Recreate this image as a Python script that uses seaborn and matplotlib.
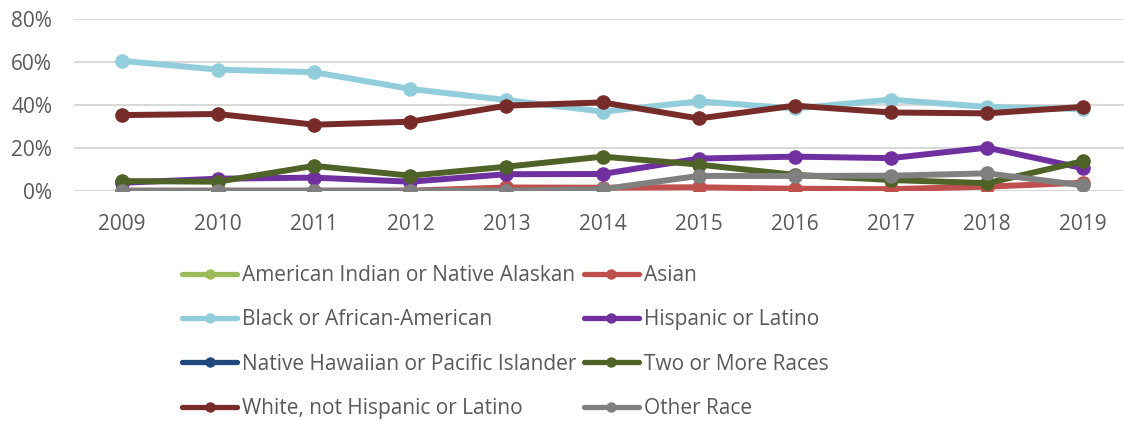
import matplotlib
matplotlib.use("Agg")
import matplotlib.pyplot as plt
import seaborn as sns
import pandas as pd
import numpy as np
from matplotlib.ticker import PercentFormatter

years = ["2009", "2010", "2011", "2012", "2013", "2014", "2015", "2016", "2017", "2018", "2019"]

nan = np.nan
american_indian = [nan] * 11
asian = [0, 0, 0, 0, 1.5, 1.4, 1.6, 0.9, 0.7, 1.9, 3.7]
black = [60.6, 56.5, 55.3, 47.5, 42.3, 36.9, 41.7, 38.4, 42.5, 39.1, 38.1]
hispanic = [3.7, 5.6, 6.1, 4.2, 7.7, 7.8, 15.0, 15.9, 15.2, 20.1, 10.5]
native_hawaiian = [nan] * 11
two_or_more = [4.5, 4.2, 11.6, 7.0, 11.2, 15.9, 12.2, 7.4, 5.0, 3.5, 13.8]
white = [35.3, 35.8, 30.8, 32.2, 39.7, 41.2, 33.7, 39.7, 36.5, 36.1, 39.1]
other_race = [0, 0, 0, 0, 0, 0.7, 6.9, 6.9, 7.0, 8.1, 2.5]

series_names = [
    "American Indian or Native Alaskan",
    "Asian",
    "Black or African-American",
    "Hispanic or Latino",
    "Native Hawaiian or Pacific Islander",
    "Two or More Races",
    "White, not Hispanic or Latino",
    "Other Race",
]
series_values = [american_indian, asian, black, hispanic, native_hawaiian,
                 two_or_more, white, other_race]
colors = ["#9BBB59", "#C0504D", "#92CDDC", "#7030A0", "#1F497D",
          "#4F6228", "#772C2A", "#808080"]

rows = []
for name, vals in zip(series_names, series_values):
    for y, v in zip(years, vals):
        rows.append({"Year": y, "Value": v, "Race": name})
df = pd.DataFrame(rows)

sns.set_theme(style="white")
plt.rcParams["font.family"] = ["Open Sans", "DejaVu Sans"]

W, H = 1124, 421
fig = plt.figure(figsize=(W / 100, H / 100), dpi=100)
ax = fig.add_axes([74 / W, 1 - 190.7 / H, (W - 74) / W, (190.7 - 19.3) / H])

sns.lineplot(data=df, x="Year", y="Value", hue="Race", hue_order=series_names,
             palette=dict(zip(series_names, colors)), marker="o",
             markersize=10.5, markeredgewidth=0, linewidth=4.3, ax=ax,
             sort=False, legend=True)

spacing = 96.1
ax.set_xlim(-0.5, -0.5 + (W - 74) / spacing)
ax.set_ylim(0, 80)
ax.set_yticks([0, 20, 40, 60, 80])
ax.yaxis.set_major_formatter(PercentFormatter(decimals=0))
ax.grid(axis="y", color="#D9D9D9", linewidth=1.5)
ax.set_axisbelow(True)
for s in ax.spines.values():
    s.set_visible(False)
ax.set_xlabel("")
ax.set_ylabel("")
ax.tick_params(axis="both", length=0, labelsize=15, labelcolor="#595959")
ax.tick_params(axis="x", pad=17)
ax.tick_params(axis="y", pad=15.8)

handles, labels = ax.get_legend_handles_labels()
ax.get_legend().remove()
order = [0, 2, 4, 6, 1, 3, 5, 7]
leg = fig.legend([handles[i] for i in order], [labels[i] for i in order],
                 loc="upper left", bbox_to_anchor=(182 / W, 1 - 265 / H),
                 ncol=2, frameon=False, fontsize=15, handlelength=2.65,
                 handletextpad=0.24, columnspacing=0.35, labelspacing=1.12,
                 borderpad=0, borderaxespad=0)
for t in leg.get_texts():
    t.set_color("#595959")
for h in leg.legend_handles:
    h.set_markersize(7.5)
    h.set_linewidth(3.8)

fig.savefig("out.png", dpi=100)
